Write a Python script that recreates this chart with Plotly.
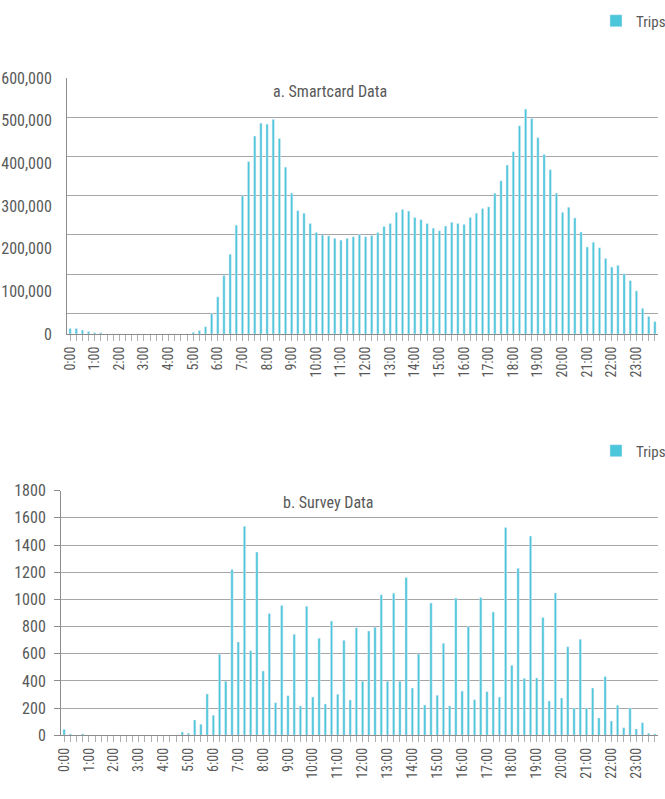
import plotly.graph_objects as go

# ---------------- data ----------------
times = [f"{h}:{m:02d}" for h in range(24) for m in (0, 15, 30, 45)]
tick_labels = [t if t.endswith(":00") else "" for t in times]

smartcard_trips = [
    13000, 13000, 9000, 6000, 3000, 3000, 0, 0, 0, 0,
    0, 0, 0, 0, 0, 0, 0, 0, 0, 0,
    4000, 8000, 17000, 48000, 87000, 137000, 187000, 255000, 324000, 404000,
    464000, 494000, 492000, 503000, 458000, 391000, 330000, 289000, 283000, 259000,
    238000, 232000, 230000, 224000, 220000, 224000, 228000, 233000, 228000, 231000,
    238000, 252000, 259000, 285000, 292000, 288000, 273000, 268000, 259000, 248000,
    242000, 253000, 262000, 259000, 257000, 273000, 283000, 294000, 298000, 330000,
    359000, 396000, 427000, 488000, 527000, 505000, 460000, 421000, 385000, 330000,
    285000, 297000, 272000, 239000, 204000, 215000, 202000, 177000, 157000, 161000,
    141000, 125000, 101000, 60000, 41000, 29000,
]

survey_trips = [
    44, 10, 0, 10, 0, 0, 0, 0, 0, 0,
    0, 0, 0, 0, 0, 0, 0, 0, 0, 25,
    15, 113, 81, 304, 147, 596, 397, 1221, 687, 1538,
    623, 1349, 473, 897, 240, 956, 292, 743, 216, 949,
    282, 714, 230, 841, 302, 699, 260, 792, 397, 768,
    795, 1035, 397, 1045, 397, 1162, 348, 598, 223, 973,
    294, 677, 216, 1010, 326, 799, 262, 1015, 321, 907,
    282, 1530, 515, 1229, 419, 1466, 422, 866, 253, 1047,
    275, 652, 201, 706, 201, 348, 128, 432, 105, 221,
    56, 201, 47, 93, 15, 10,
]

top_y_ticks = [0, 100000, 200000, 300000, 400000, 500000, 600000]
bottom_y_ticks = [0, 200, 400, 600, 800, 1000, 1200, 1400, 1600, 1800]
series_name = "Trips"

# ---------------- style ----------------
FONT = "Liberation Sans Narrow, Roboto Condensed, DejaVu Sans Condensed, Arial Narrow, sans-serif"
TXT = "#595959"
GRID = "#a6a6a6"
AXIS = "#8c8c8c"
BAR = "#4BC6DB"

fig = go.Figure()
fig.add_trace(go.Bar(x=times, y=smartcard_trips, name=series_name, marker_color=BAR,
                     xaxis="x", yaxis="y", legend="legend"))
fig.add_trace(go.Bar(x=times, y=survey_trips, name=series_name, marker_color=BAR,
                     xaxis="x2", yaxis="y2", legend="legend2"))

xcommon = dict(type="category", tickmode="array", tickvals=times, ticktext=tick_labels,
               tickangle=-90, ticks="outside", ticklen=6, tickcolor="#b0b0b0",
               showline=True, linecolor=AXIS, linewidth=1, showgrid=False,
               tickfont=dict(family=FONT, size=14, color=TXT), automargin=False,
               range=[-0.5, 95.5])

# top chart: gridlines drawn slightly offset from labels as in the source image
top_grid = [600000 - n * 91900 for n in range(7)]

fig.update_layout(
    width=665, height=799,
    margin=dict(l=0, r=0, t=0, b=0, autoexpand=False),
    paper_bgcolor="white", plot_bgcolor="white",
    font=dict(family=FONT, color=TXT),
    bargap=0.63,
    showlegend=True,
    xaxis=dict(domain=[0.10075, 0.98947], anchor="y", **xcommon),
    xaxis2=dict(domain=[0.09173, 0.98947], anchor="y2", **xcommon),
    yaxis=dict(domain=[0.58198, 0.90238], anchor="x", range=[0, 600000],
               tickmode="array", tickvals=top_y_ticks, tickformat=",",
               showgrid=False, showline=True, linecolor=AXIS, linewidth=1,
               ticks="outside", ticklen=7, tickcolor="rgba(0,0,0,0)",
               ticklabelstandoff=4,
               tickfont=dict(family=FONT, size=16, color=TXT), automargin=False,
               zeroline=False),
    yaxis3=dict(overlaying="y", anchor="x", range=[0, 600000],
                tickmode="array", tickvals=top_grid, showticklabels=False,
                showgrid=True, gridcolor=GRID, gridwidth=1, showline=False,
                ticks="", zeroline=False, automargin=False),
    yaxis2=dict(domain=[0.07972, 0.38586], anchor="x2", range=[0, 1800],
                tickmode="array", tickvals=bottom_y_ticks,
                showgrid=True, gridcolor=GRID, gridwidth=1,
                showline=True, linecolor=AXIS, linewidth=1,
                ticks="outside", ticklen=6, tickcolor=AXIS,
                ticklabelstandoff=5,
                tickfont=dict(family=FONT, size=16, color=TXT), automargin=False,
                zeroline=False),
    legend=dict(x=0.8962, xanchor="left", y=0.9737, yanchor="middle",
                font=dict(family=FONT, size=15, color=TXT), bgcolor="rgba(0,0,0,0)"),
    legend2=dict(x=0.8962, xanchor="left", y=0.4356, yanchor="middle",
                 font=dict(family=FONT, size=15, color=TXT), bgcolor="rgba(0,0,0,0)"),
    annotations=[
        dict(text="a. Smartcard Data", x=0.4962, y=0.8861, xref="paper", yref="paper",
             showarrow=False, xanchor="center", yanchor="middle",
             font=dict(family=FONT, size=16, color=TXT)),
        dict(text="b. Survey Data", x=0.4947, y=0.3705, xref="paper", yref="paper",
             showarrow=False, xanchor="center", yanchor="middle",
             font=dict(family=FONT, size=16, color=TXT)),
    ],
)

# invisible helper trace so the overlaid grid axis is rendered
fig.add_trace(go.Scatter(x=[times[0]], y=[0], xaxis="x", yaxis="y3", mode="markers",
                         marker=dict(opacity=0), showlegend=False, hoverinfo="skip"))

fig.write_html("out.html",
               config={"displayModeBar": False},
               post_script="document.body.style.margin='0';document.body.style.overflow='hidden';")
